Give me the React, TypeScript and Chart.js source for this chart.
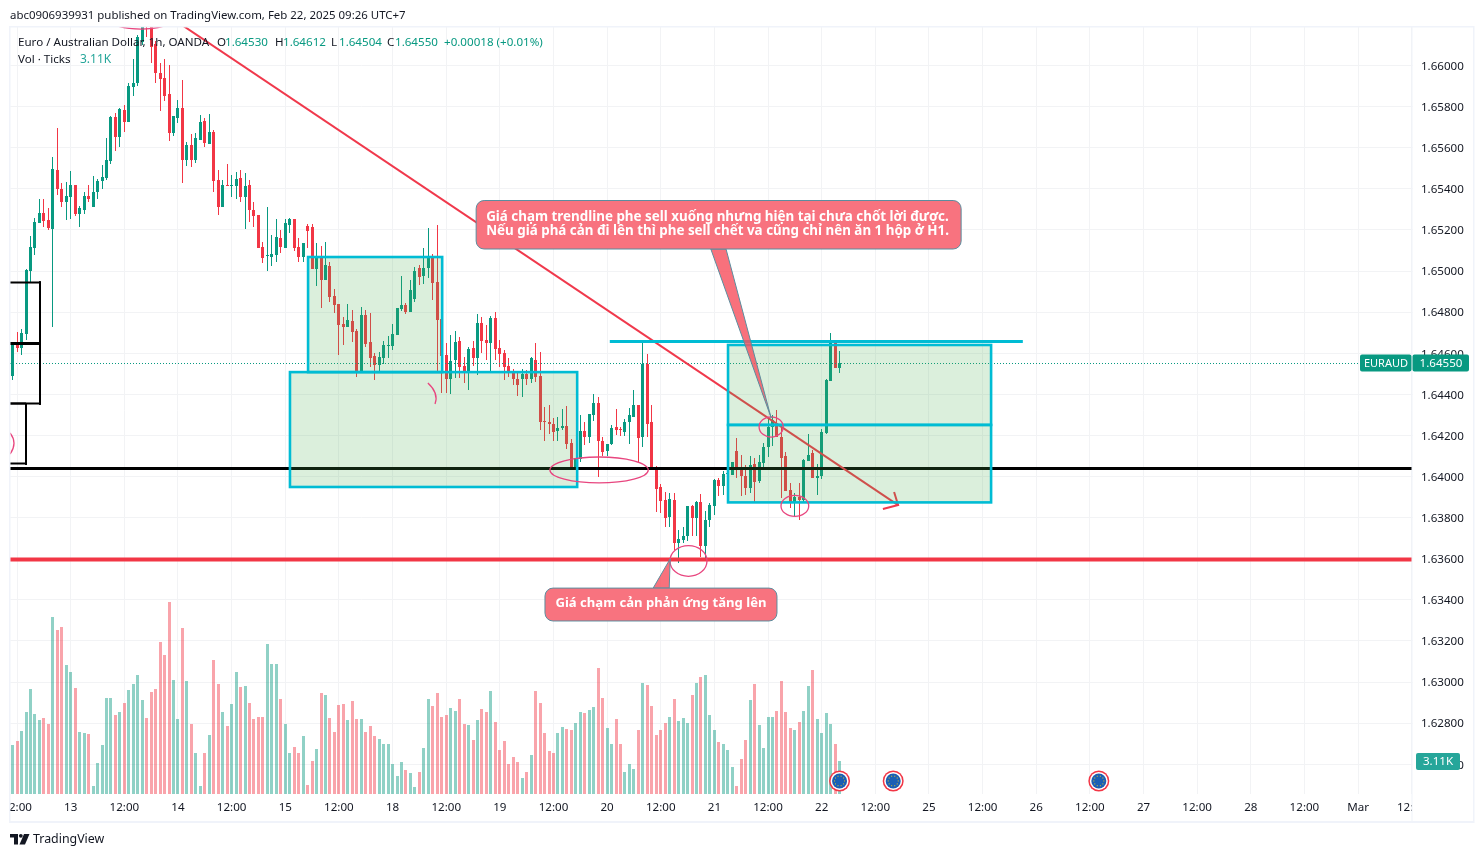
import React, { useEffect, useRef } from "react";
import { Chart, registerables } from "chart.js";

Chart.register(...registerables);

// Prices are stored in units of 0.00001.
const PRICE_UNIT = 100000;

const opens = [
164489,164645,164625,164694,165000,165112,165233,165282,165248,165204,
165491,165399,165335,165360,165418,165277,165297,165365,165311,165384,
165438,165452,165535,165749,165652,165783,165725,165895,165915,166114,
166245,166221,166105,165963,165939,165861,165671,165744,165793,165540,
165613,165540,165637,165730,165618,165676,165443,165311,165418,165413,
165413,165452,165360,165418,165297,165272,165117,165073,165068,165078,
165161,165112,165224,165253,165117,165068,165219,165214,165010,165068,
164956,165024,164878,164840,164742,164728,164757,164708,164508,164786,
164654,164587,164543,164577,164635,164635,164689,164815,164835,164800,
164864,165015,164976,165015,165073,164946,164767,164591,164475,164567,
164659,164538,164508,164625,164577,164747,164664,164649,164771,164625,
164601,164538,164513,164475,164475,164499,164475,164567,164489,164270,
164265,164255,164221,164236,164246,164163,164041,164085,164221,164192,
164299,164358,164173,164124,164158,164241,164231,164217,164265,164290,
164348,164192,164548,164265,164041,163949,163886,163803,163886,163676,
163691,163710,163857,163798,163876,163662,163788,163857,163983,163954,
164012,164007,164124,164036,164003,163944,164061,163978,164065,164144,
164241,164255,164192,164100,163934,163871,163900,163886,164075,164114,
163993,164003,164212,164465,164654,164530];

const highs = [
164649,164703,164718,165010,165170,165257,165350,165350,165306,165555,
165696,165428,165433,165486,165418,165316,165384,165418,165462,165448,
165516,165647,165754,165769,165793,165808,165915,166032,166148,166260,
166270,166245,166119,166012,166032,166002,165754,165832,165929,165627,
165666,165671,165759,165744,165764,165686,165491,165443,165521,165467,
165482,165491,165477,165443,165335,165272,165141,165311,165175,165253,
165199,165253,165257,165253,165161,165136,165228,165228,165136,165122,
165141,165044,164912,164840,164776,164840,164810,164718,164825,164810,
164795,164601,164606,164659,164684,164742,164820,164976,164845,164956,
165020,165029,165112,165209,165083,165224,164961,164649,164689,164708,
164679,164582,164630,164659,164791,164776,164737,164781,164800,164664,
164616,164577,164523,164503,164523,164518,164582,164649,164606,164338,
164348,164285,164290,164329,164343,164183,164090,164299,164265,164304,
164401,164387,164192,164158,164251,164329,164241,164280,164333,164421,
164348,164664,164596,164348,164051,163963,163925,163920,163920,163740,
163754,163857,163861,163881,163915,163832,163871,163988,163993,164027,
164056,164070,164187,164105,164056,164100,164090,164105,164163,164290,
164299,164324,164236,164119,163968,163920,163968,164085,164207,164129,
164061,164231,164475,164698,164654,164612];

const lows = [
164470,164606,164591,164664,164946,165078,165233,165214,165199,164728,
165370,165311,165248,165253,165267,165214,165277,165335,165311,165350,
165399,165443,165521,165584,165603,165676,165725,165852,165900,166100,
166139,166012,165915,165778,165827,165632,165657,165720,165428,165511,
165506,165526,165637,165603,165618,165384,165272,165311,165413,165360,
165350,165335,165204,165238,165214,165112,165039,165000,165024,165044,
165088,165112,165185,165097,165044,165044,165112,165010,164927,164820,
164956,164849,164795,164591,164640,164728,164654,164484,164508,164630,
164533,164470,164503,164548,164577,164616,164689,164805,164791,164800,
164849,164932,164937,164966,164859,164503,164406,164406,164401,164479,
164479,164455,164421,164538,164494,164601,164567,164503,164567,164533,
164470,164484,164445,164391,164387,164445,164455,164460,164226,164173,
164207,164173,164173,164226,164134,164032,164032,164070,164153,164163,
164270,163998,164100,164100,164153,164202,164197,164197,164158,164290,
164065,164144,164192,164036,163827,163822,163754,163754,163642,163579,
163676,163686,163710,163710,163608,163594,163754,163813,163905,163910,
164003,164007,163993,163905,163910,163920,163876,163968,164046,164095,
164149,164192,163896,163929,163847,163808,163788,163871,164075,163993,
163910,163988,164207,164465,164528,164504];

const closes = [
164645,164625,164698,165005,165117,165238,165282,165243,165209,165496,
165399,165335,165365,165418,165277,165306,165365,165350,165384,165438,
165457,165540,165749,165652,165788,165725,165900,165915,166139,166231,
166211,166090,165963,165934,165852,165671,165754,165793,165540,165613,
165540,165647,165725,165622,165676,165438,165311,165418,165413,165418,
165448,165360,165413,165297,165267,165112,165064,165078,165083,165165,
165117,165233,165253,165112,165068,165136,165194,165010,165068,164956,
165029,164873,164835,164737,164728,164762,164703,164508,164786,164645,
164577,164543,164582,164640,164640,164694,164820,164835,164800,164908,
165000,164971,165015,165068,164942,164762,164587,164475,164562,164654,
164533,164508,164620,164577,164747,164659,164649,164771,164620,164596,
164533,164513,164475,164445,164499,164475,164577,164484,164265,164265,
164255,164217,164236,164246,164158,164041,164090,164221,164192,164304,
164358,164173,164119,164158,164236,164226,164226,164265,164299,164348,
164187,164548,164255,164041,163939,163881,163798,163891,163676,163696,
163710,163857,163798,163876,163662,163788,163861,163983,163954,164012,
164017,164070,164032,164003,163944,164056,163973,164070,164144,164241,
164275,164192,164090,163929,163871,163900,163886,164080,164105,163993,
164003,164217,164470,164654,164528,164550];

// Tick volume in thousands.
const volumes = [
4.62,5.00,5.94,7.74,9.91,7.55,6.98,7.17,6.60,16.70,
15.47,15.75,12.17,11.51,10.00,5.85,5.75,5.66,0.75,2.92,
4.62,9.06,9.06,7.45,7.74,8.58,9.81,10.38,11.23,8.87,
7.17,9.62,9.91,14.34,13.11,18.11,10.75,7.08,15.66,10.66,
6.60,3.87,0.75,3.87,5.57,12.64,10.38,7.74,6.42,8.49,
11.51,10.09,10.19,8.58,7.08,7.26,7.26,14.15,12.26,12.26,
8.96,6.60,3.87,4.43,3.87,5.47,0.85,3.11,4.25,9.53,
9.34,7.17,5.85,8.40,8.49,6.98,8.77,7.08,7.08,5.85,
6.42,5.47,5.19,4.72,4.72,2.83,1.70,3.02,2.26,1.98,
0.66,2.08,4.34,8.96,8.30,9.53,7.26,7.45,8.11,7.83,
8.96,6.60,6.51,5.09,6.98,8.02,7.74,9.72,6.79,4.15,
5.00,2.83,3.49,3.02,1.51,2.08,3.68,9.72,8.58,5.75,
4.06,3.87,5.75,6.32,6.13,6.04,6.70,7.74,7.64,7.92,
8.21,11.89,9.06,6.23,4.72,7.08,4.72,2.08,2.83,2.36,
6.04,10.47,10.28,8.30,5.57,6.04,6.70,7.26,8.96,6.89,
7.17,6.70,9.34,10.47,11.04,11.23,7.45,6.04,4.91,4.72,
4.15,2.55,0.75,3.30,5.09,8.87,10.38,6.51,4.34,7.26,
7.26,7.83,10.66,7.74,6.23,6.04,6.79,7.83,10.19,11.70,
7.08,5.75,7.64,6.60,4.72,3.11];

const tickLabels = [
"12:00","13","12:00","14","12:00","15","12:00","18","12:00","19","12:00","20","12:00","21",
"12:00","22","12:00","25","12:00","26","12:00","27","12:00","28","12:00","Mar","12:00"];
const BAR_COUNT = 314;
const TICK_EVERY = 12;
const categories = Array.from({ length: BAR_COUNT }, (_, i) =>
  (i - 1) % TICK_EVERY === 0 ? tickLabels[(i - 1) / TICK_EVERY] ?? "" : "");

const PRICE_MAX = 1.661873;
const PRICE_MIN = 1.624551;
const PRICE_STEP = 0.002;
const VOLUME_MAX = 72.36;
const lastPrice = 1.6455;

// Drawings, in [bar index, price] terms.
const greenBoxes = [
  [66.1, 96.1, 1.65068, 1.64508],
  [62.05, 126.3, 1.64508, 1.63949],
  [160.05, 218.9, 1.6464, 1.64251],
  [160.05, 218.9, 1.64251, 1.63874],
];
const blackRuns = [
  [-3, 6.13, 1.64946, 2],
  [-3, 6.13, 1.64649, 3],
  [-3, 6.13, 1.64353, 2],
  [-3, 3.0, 1.64353, 2],
  [-3, 3.0, 1.64061, 2],
];
const blackDrops = [
  [6.13, 1.64946, 1.64353],
  [3.0, 1.64353, 1.64061],
];
const supportBlack = 1.64039;
const supportRed = 1.63595;
const cyanLine = [133.6, 226, 1.64657];
const trendLine = [[30.07, 1.66311], [198.1, 1.63861]];
const arrowHead = [[197.2, 1.63925], [198.1, 1.63861], [194.7, 1.63842]];
const ellipses = [
  [28.7, 1.6625, 8.5, 0.00073],
  [131.2, 1.64032, 11, 0.00063],
  [151.2, 1.63589, 4.14, 0.00075],
  [169.7, 1.64241, 2.7, 0.00049],
  [175, 1.63857, 3.1, 0.00051],
];
const arcs = [
  [[92.9, 1.64455], [95.4, 1.64406], [94.5, 1.64353]],
  [[-0.58, 1.64212], [1.2, 1.64163], [-0.58, 1.64109]],
];
const callouts = [
  {
    box: [103.7, 212.2, 1.65343, 1.65107],
    tail: [[156.2, 1.65107], [159.6, 1.65107], [169.7, 1.64285]],
    size: 13.4,
    lines: [
      "Giá chạm trendline phe sell xuống nhưng hiện tại chưa chốt lời được.",
      "Nếu giá phá cản đi lên thì phe sell chết va cũng chỉ nên ăn 1 hộp ở H1.",
    ],
  },
  {
    box: [119.1, 171, 1.63457, 1.63297],
    tail: [[143.3, 1.63457], [146.9, 1.63457], [147.1, 1.63599]],
    size: 13.1,
    lines: ["Giá chạm cản phản ứng tăng lên"],
  },
];
const eventBars = [185, 197, 243];
const EVENT_VOLUME_LEVEL = 1.23;

const headerText = "abc0906939931 published on TradingView.com, Feb 22, 2025 09:26 UTC+7";
const symbolText = "Euro / Australian Dollar, 1h, OANDA";
const ohlcLegend = [
  ["O", "1.64530", 217],
  ["H", "1.64612", 275],
  ["L", "1.64504", 331],
  ["C", "1.64550", 387],
];
const changeText = "+0.00018 (+0.01%)";
const volText = "Vol · Ticks";
const volValue = "3.11K";
const symbolBadge = "EURAUD";
const priceBadge = "1.64550";
const brandText = "TradingView";

const UP = "#089981";
const DOWN = "#f23645";
const UP_VOL = "rgba(8,153,129,0.45)";
const DOWN_VOL = "rgba(242,54,69,0.45)";
const GRID = "#f2f3f5";
const FRAME = "#f0f3fa";
const INK = "#131722";
const CYAN = "#00bcd4";
const PINK = "#e8467f";
const FONT = '"Noto Sans", sans-serif';

const isUp = (i: number) => closes[i] >= opens[i];

const overlay = {
  id: "overlay",
  afterDatasetsUpdate(chart: any) {
    chart.data.datasets.forEach((_: any, d: number) => {
      chart.getDatasetMeta(d).data.forEach((el: any) => {
        el.x = Math.round(el.x - 0.5) + 0.5;
        el.y = Math.round(el.y);
        el.base = Math.round(el.base);
      });
    });
  },
  beforeDatasetsDraw(chart: any) {
    const { ctx, chartArea: a } = chart;
    ctx.save();
    ctx.fillStyle = "#fff";
    ctx.fillRect(1412.5, a.top, a.right - 1412 + 2, a.bottom - a.top);
    ctx.restore();
  },
  afterDatasetsDraw(chart: any) {
    const { ctx, chartArea: a, scales } = chart;
    const X = (v: number) => scales.x.getPixelForValue(v);
    const Y = (v: number) => scales.y.getPixelForValue(v);
    ctx.save();
    ctx.beginPath();
    ctx.rect(10, a.top, 1412 - 10, a.bottom - a.top);
    ctx.clip();

    const hline = (x0: number, x1: number, p: number, w: number, c: string) => {
      const y = Math.round(Y(p) - 0.5) + (w % 2 ? 0.5 : 0.5);
      ctx.strokeStyle = c;
      ctx.lineWidth = w;
      ctx.beginPath();
      ctx.moveTo(x0, y);
      ctx.lineTo(x1, y);
      ctx.stroke();
    };

    // last-price dotted line
    ctx.setLineDash([1, 2]);
    hline(10, 1360, lastPrice, 1, UP);
    ctx.setLineDash([]);

    // black structure
    blackRuns.forEach(([s, e, p, w]) => hline(X(s), X(e), p, w, "#000"));
    blackDrops.forEach(([b, p0, p1]) => {
      ctx.strokeStyle = "#000";
      ctx.lineWidth = 2;
      ctx.beginPath();
      ctx.moveTo(X(b), Y(p0) - 1);
      ctx.lineTo(X(b), Y(p1) + 1);
      ctx.stroke();
    });
    hline(10, 1412, supportBlack, 3, "#000");
    hline(10, 1412, supportRed, 4, DOWN);

    // trendline + arrow
    ctx.strokeStyle = "#f0394c";
    ctx.lineWidth = 2;
    ctx.beginPath();
    trendLine.forEach(([b, p], i) => (i ? ctx.lineTo(X(b), Y(p)) : ctx.moveTo(X(b), Y(p))));
    ctx.stroke();
    ctx.beginPath();
    arrowHead.forEach(([b, p], i) => (i ? ctx.lineTo(X(b), Y(p)) : ctx.moveTo(X(b), Y(p))));
    ctx.stroke();

    // green boxes
    greenBoxes.forEach(([s, e, top, bot]) => {
      const x = X(s), y = Y(top), w = X(e) - x, h = Y(bot) - y;
      ctx.fillStyle = "rgba(76,175,80,0.2)";
      ctx.fillRect(x, y, w, h);
      ctx.strokeStyle = CYAN;
      ctx.lineWidth = 2.6;
      ctx.strokeRect(x, y, w, h);
    });
    hline(X(cyanLine[0]), X(cyanLine[1]), cyanLine[2], 3, CYAN);

    // pink brush marks
    ctx.strokeStyle = PINK;
    ctx.lineWidth = 1.3;
    ellipses.forEach(([b, p, rb, rp]) => {
      ctx.beginPath();
      ctx.ellipse(X(b), Y(p), X(b + rb) - X(b), Y(p - rp) - Y(p), 0, 0, Math.PI * 2);
      ctx.stroke();
    });
    arcs.forEach(([p0, c, p1]) => {
      ctx.beginPath();
      ctx.moveTo(X(p0[0]), Y(p0[1]));
      ctx.quadraticCurveTo(X(c[0]), Y(c[1]), X(p1[0]), Y(p1[1]));
      ctx.stroke();
    });

    // callouts
    callouts.forEach(({ box, tail, lines, size }) => {
      const [s, e, top, bot] = box;
      const x = X(s), y = Y(top), w = X(e) - x, h = Y(bot) - y;
      ctx.fillStyle = "rgba(247,82,95,0.82)";
      ctx.strokeStyle = "#5b8d9e";
      ctx.lineWidth = 1;
      ctx.beginPath();
      ctx.moveTo(X(tail[0][0]), Y(tail[0][1]));
      ctx.lineTo(X(tail[2][0]), Y(tail[2][1]));
      ctx.lineTo(X(tail[1][0]), Y(tail[1][1]));
      ctx.closePath();
      ctx.fill();
      ctx.stroke();
      ctx.beginPath();
      ctx.roundRect(x, y, w, h, 8);
      ctx.fillStyle = "#f8737f";
      ctx.fill();
      ctx.stroke();
      ctx.fillStyle = "#fff";
      ctx.font = `bold ${size}px ${FONT}`;
      ctx.textBaseline = "middle";
      if (lines.length > 1) {
        ctx.textAlign = "left";
        lines.forEach((t, i) => ctx.fillText(t, x + 10, y + 17 + i * 14));
      } else {
        ctx.textAlign = "center";
        ctx.fillText(lines[0], x + w / 2, y + h / 2 - 1);
      }
    });

    // event flags
    eventBars.forEach((b) => {
      const x = X(b), y = scales.yVol.getPixelForValue(EVENT_VOLUME_LEVEL);
      const disc = (r: number, c: string) => {
        ctx.fillStyle = c;
        ctx.beginPath();
        ctx.arc(x, y, r, 0, Math.PI * 2);
        ctx.fill();
      };
      disc(10.5, DOWN);
      disc(9, "#fff");
      disc(7.5, "#1a5fb4");
      for (let k = 0; k < 10; k++) {
        const t = (k * Math.PI) / 5;
        ctx.fillStyle = "#e8c420";
        ctx.fillRect(x + Math.cos(t) * 5 - 0.5, y + Math.sin(t) * 5 - 0.5, 1, 1);
      }
    });
    ctx.restore();
  },
  afterDraw(chart: any) {
    const { ctx, chartArea: a, scales } = chart;
    ctx.save();
    // clip marks for clipped time labels + frame
    ctx.fillStyle = "#fff";
    ctx.fillRect(0, a.bottom + 1, 9.5, 27);
    ctx.fillRect(1412, a.bottom + 1, 72, 27);
    ctx.fillStyle = FRAME;
    ctx.fillRect(9, 26, 1465, 1.5);
    ctx.fillRect(9, 821, 1465, 2);
    ctx.fillRect(9, 26, 1.5, 797);
    ctx.fillRect(1473, 26, 1.5, 797);
    ctx.fillRect(1411.5, 27, 1, 794);

    ctx.textBaseline = "middle";
    ctx.textAlign = "left";
    ctx.font = `11.45px ${FONT}`;
    ctx.fillStyle = INK;
    ctx.fillText(headerText, 10, 15.5);
    ctx.font = `11.6px ${FONT}`;
    ctx.fillText(symbolText, 18, 43);
    ctx.fillText(volText, 18, 59.5);
    ohlcLegend.forEach(([k, v, x]) => {
      ctx.fillStyle = INK;
      ctx.fillText(k as string, x as number, 43);
      ctx.fillStyle = UP;
      ctx.fillText(v as string, (x as number) + 8, 43);
    });
    ctx.fillStyle = UP;
    ctx.fillText(changeText, 444, 43);
    ctx.fillStyle = "#26a69a";
    ctx.font = `12px ${FONT}`;
    ctx.fillText(volValue, 80, 59.5);

    // price badges
    const py = scales.y.getPixelForValue(lastPrice);
    ctx.fillStyle = UP;
    ctx.beginPath();
    ctx.roundRect(1360, py - 9, 51.5, 17, 2);
    ctx.roundRect(1412.5, py - 9, 56.5, 17, 2);
    ctx.fill();
    ctx.fillStyle = "#fff";
    ctx.textAlign = "center";
    ctx.font = `11px ${FONT}`;
    ctx.fillText(symbolBadge, 1386, py);
    ctx.font = `11.6px ${FONT}`;
    ctx.fillText(priceBadge, 1441, py);
    const vy = scales.yVol.getPixelForValue(volumes[volumes.length - 1]);
    ctx.fillStyle = "#26a69a";
    ctx.beginPath();
    ctx.roundRect(1416, vy - 8, 44, 17, 2);
    ctx.fill();
    ctx.fillStyle = "#fff";
    ctx.fillText(volValue, 1438, vy + 0.5);

    // brand
    ctx.fillStyle = INK;
    ctx.fillRect(10, 834, 8, 3.5);
    ctx.fillRect(14, 834, 4, 10.5);
    ctx.beginPath();
    ctx.arc(20.8, 835.8, 1.9, 0, Math.PI * 2);
    ctx.fill();
    ctx.beginPath();
    ctx.moveTo(24, 834);
    ctx.lineTo(29.5, 834);
    ctx.lineTo(25, 844.5);
    ctx.lineTo(19.5, 844.5);
    ctx.closePath();
    ctx.fill();
    ctx.textAlign = "left";
    ctx.font = `12.4px ${FONT}`;
    ctx.fillText(brandText, 33, 839.5);
    ctx.restore();
  },
};

export default function App() {
  const ref = useRef<HTMLCanvasElement>(null);
  useEffect(() => {
    document.body.style.margin = "0";
    const idx = opens.map((_, i) => i);
    const chart = new Chart(ref.current as HTMLCanvasElement, {
      type: "bar",
      plugins: [overlay as any],
      data: {
        labels: categories,
        datasets: [
          {
            label: "Bodies",
            data: idx.map((i) => [Math.min(opens[i], closes[i]) / PRICE_UNIT, Math.max(opens[i], closes[i]) / PRICE_UNIT]),
            backgroundColor: idx.map((i) => (isUp(i) ? UP : DOWN)),
            barThickness: 3,
            minBarLength: 1,
            grouped: false,
            inflateAmount: 0,
            order: 1,
            yAxisID: "y",
          },
          {
            label: "Wicks",
            data: idx.map((i) => [lows[i] / PRICE_UNIT, highs[i] / PRICE_UNIT]),
            backgroundColor: idx.map((i) => (isUp(i) ? UP : DOWN)),
            barThickness: 1,
            grouped: false,
            inflateAmount: 0,
            order: 2,
            yAxisID: "y",
          },
          {
            label: "Vol",
            data: volumes,
            backgroundColor: idx.map((i) => (isUp(i) ? UP_VOL : DOWN_VOL)),
            barThickness: 3,
            grouped: false,
            inflateAmount: 0,
            order: 3,
            yAxisID: "yVol",
          },
        ],
      } as any,
      options: {
        responsive: false,
        animation: false,
        devicePixelRatio: 1,
        layout: { padding: { left: 10.37, top: 27, right: 0, bottom: 0 } },
        plugins: { legend: { display: false }, tooltip: { enabled: false }, title: { display: false } },
        scales: {
          x: {
            type: "category",
            offset: true,
            grid: { offset: false, color: GRID, drawTicks: false },
            border: { display: false },
            afterBuildTicks: (axis: any) => {
              axis.ticks = axis.ticks.filter((t: any) => categories[t.value] !== "");
            },
            afterFit: (axis: any) => {
              axis.height = 63;
              axis.paddingLeft = 0;
              axis.paddingRight = 0;
            },
            ticks: {
              autoSkip: false,
              maxRotation: 0,
              minRotation: 0,
              padding: 7,
              color: INK,
              font: { family: FONT, size: 11.6 },
            },
          },
          y: {
            type: "linear",
            position: "right",
            min: PRICE_MIN,
            max: PRICE_MAX,
            grid: { color: GRID, drawTicks: false },
            border: { display: false },
            afterFit: (axis: any) => {
              axis.width = 70.05;
              axis.paddingTop = 0;
              axis.paddingBottom = 0;
            },
            ticks: {
              stepSize: PRICE_STEP,
              includeBounds: false,
              autoSkip: false,
              padding: 7,
              labelOffset: 1,
              color: INK,
              font: { family: FONT, size: 11.6 },
              callback: (v: any) => Number(v).toFixed(5),
            },
          },
          yVol: {
            type: "linear",
            display: false,
            position: "left",
            min: 0,
            max: VOLUME_MAX,
            grid: { display: false },
          },
        },
      } as any,
    });
    return () => chart.destroy();
  }, []);
  return (
    <div style={{ width: 1484, height: 857, background: "#fff" }}>
      <canvas ref={ref} width={1484} height={857} style={{ display: "block" }} />
    </div>
  );
}
